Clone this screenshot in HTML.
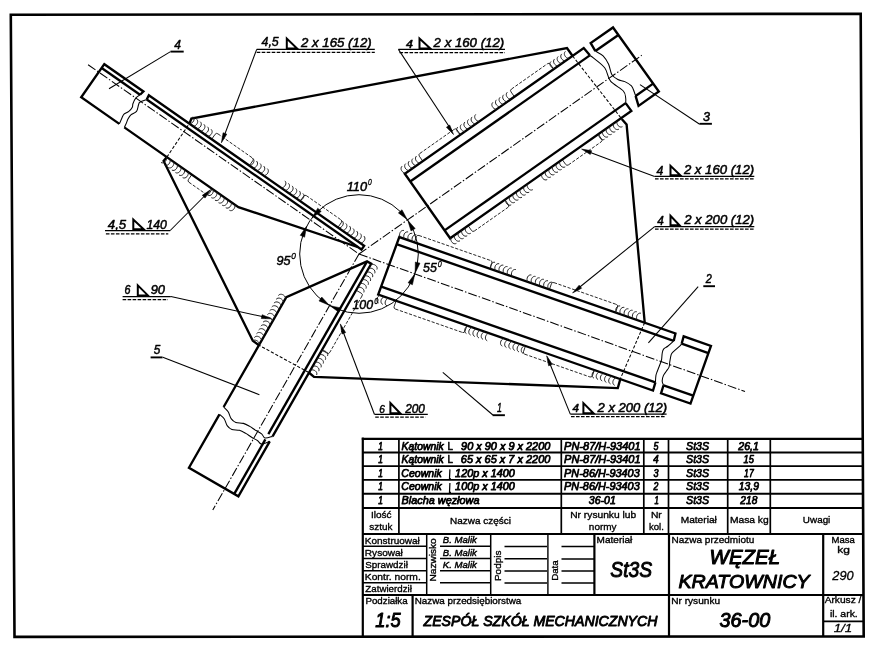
<!DOCTYPE html>
<html><head><meta charset="utf-8"><title>Węzeł kratownicy</title>
<style>
html,body{margin:0;padding:0;background:#fff;}
body{width:878px;height:650px;overflow:hidden;}
svg{display:block;font-family:"Liberation Sans",sans-serif;will-change:transform;}
</style></head><body>
<svg width="878" height="650" viewBox="0 0 878 650"><path d="M10.8 14.8 L860.7 13.8 L863.7 636.5 L14.5 636.9 Z" fill="none" stroke="#000" stroke-width="2.6" stroke-linejoin="miter"/>
<path d="M140.03 94.78 L143.4 91.52 L104.3 64.2 L81.22 97.23 L119.33 123.87" fill="none" stroke="#000" stroke-width="2.35" stroke-linejoin="miter"/>
<line x1="101.67" y1="67.97" x2="140.03" y2="94.78" stroke="#000" stroke-width="2.35" stroke-linecap="butt"/>
<path d="M140.03 94.78C139.31 95.34 136.92 96.63 135.74 98.12C134.55 99.61 133.49 102.21 132.92 103.72C132.35 105.23 133 105.93 132.32 107.2C131.64 108.47 130.21 110.2 128.82 111.34C127.43 112.49 125.15 112.93 123.99 114.07C122.82 115.21 122.62 116.55 121.84 118.18C121.07 119.81 119.75 122.92 119.33 123.87" fill="none" stroke="#000" stroke-width="1.05"/>
<path d="M146.75 99.47C145.61 99.94 141.3 101.34 139.92 102.27C138.54 103.19 139.04 103.52 138.47 105.04C137.9 106.55 137.77 109.71 136.5 111.35C135.24 112.98 132.28 113.6 130.88 114.86C129.47 116.11 128.87 117.38 128.07 118.87C127.27 120.37 126.7 122.41 126.07 123.82C125.45 125.24 124.62 126.77 124.33 127.36" fill="none" stroke="#000" stroke-width="1.05"/>
<path d="M146.75 99.47 L148.81 95.3 L364.14 245.78 L361.51 249.55 L358.23 247.26 L238.43 207.1 L124.33 127.36" fill="none" stroke="#000" stroke-width="2.35" stroke-linejoin="miter"/>
<line x1="146.75" y1="99.47" x2="358.23" y2="247.26" stroke="#000" stroke-width="2.35" stroke-linecap="butt"/>
<line x1="88.09" y1="64.7" x2="359" y2="254" stroke="#000" stroke-width="1.05" stroke-dasharray="9 2 1.5 2" stroke-linecap="butt"/>
<path d="M589.84 55.35 L583.73 48.04 L404.8 173.8 L450.11 238.27 L631.33 110.9 L625.65 103.16" fill="none" stroke="#000" stroke-width="2.35" stroke-linejoin="miter"/>
<line x1="410.26" y1="181.57" x2="589.84" y2="55.35" stroke="#000" stroke-width="2.35" stroke-linecap="butt"/>
<line x1="444.59" y1="230.41" x2="625.65" y2="103.16" stroke="#000" stroke-width="2.35" stroke-linecap="butt"/>
<path d="M589.84 55.35C590.48 55.82 591.16 56.06 593.66 58.17C596.16 60.28 602.08 64.24 604.86 68.02C607.64 71.81 607.29 77.07 610.36 80.9C613.44 84.73 620.77 88.13 623.32 90.98C625.87 93.83 625.3 95.97 625.68 98C626.07 100.03 625.65 102.3 625.65 103.16" fill="none" stroke="#000" stroke-width="1.05"/>
<path d="M595.4 51.08 L590.68 43.15 L613.02 27.46 L658.82 91.58 L638.53 105.84 L635.59 95.93" fill="none" stroke="#000" stroke-width="2.35" stroke-linejoin="miter"/>
<line x1="595.4" y1="51.08" x2="618.39" y2="34.93" stroke="#000" stroke-width="2.35" stroke-linecap="butt"/>
<line x1="635.59" y1="95.93" x2="653.1" y2="83.62" stroke="#000" stroke-width="2.35" stroke-linecap="butt"/>
<path d="M595.4 51.08C596.68 51.89 600.89 53.74 603.09 55.94C605.29 58.15 607.15 61.22 608.6 64.3C610.05 67.37 610.24 71.86 611.79 74.4C613.33 76.94 615.68 78.35 617.85 79.55C620.02 80.75 622.54 80.57 624.81 81.63C627.08 82.68 629.88 84.15 631.46 85.87C633.04 87.6 633.59 90.29 634.27 91.96C634.96 93.64 635.37 95.27 635.59 95.93" fill="none" stroke="#000" stroke-width="1.05"/>
<line x1="359" y1="254" x2="641.75" y2="55.3" stroke="#000" stroke-width="1.05" stroke-dasharray="9 2 1.5 2" stroke-linecap="butt"/>
<path d="M673.7 340.95 L675.45 333.51 L399.3 237.1 L378.21 294.56 L653.02 390.5 L655.41 382.44" fill="none" stroke="#000" stroke-width="2.35" stroke-linejoin="miter"/>
<line x1="396.51" y1="244.18" x2="673.7" y2="340.95" stroke="#000" stroke-width="2.35" stroke-linecap="butt"/>
<line x1="381.24" y1="286.72" x2="655.41" y2="382.44" stroke="#000" stroke-width="2.35" stroke-linecap="butt"/>
<path d="M673.7 340.95C672.71 341.84 669.41 344.92 667.72 346.27C666.03 347.62 664.48 347.9 663.56 349.06C662.65 350.22 662.56 351.39 662.21 353.25C661.86 355.1 661.94 358.11 661.48 360.19C661.02 362.28 660.13 363.89 659.44 365.73C658.74 367.57 657.89 369.62 657.31 371.24C656.72 372.85 656.27 373.56 655.95 375.42C655.63 377.29 655.5 381.27 655.41 382.44" fill="none" stroke="#000" stroke-width="1.05"/>
<path d="M681.64 343.72 L683.67 336.38 L710.95 345.9 L690.5 403.58 L661.04 393.3 L663.53 385.27" fill="none" stroke="#000" stroke-width="2.35" stroke-linejoin="miter"/>
<line x1="681.64" y1="343.72" x2="708.35" y2="353.05" stroke="#000" stroke-width="2.35" stroke-linecap="butt"/>
<line x1="663.53" y1="385.27" x2="693.27" y2="395.65" stroke="#000" stroke-width="2.35" stroke-linecap="butt"/>
<path d="M681.64 343.72C681.4 344.03 681.65 344.22 680.25 345.56C678.84 346.91 674.72 350.29 673.2 351.79C671.69 353.29 671.73 352.97 671.17 354.58C670.61 356.18 670.2 359.34 669.84 361.42C669.49 363.5 669.62 365.44 669.03 367.07C668.45 368.7 667.25 369.82 666.32 371.21C665.39 372.59 664.17 373.77 663.48 375.4C662.78 377.03 662.16 379.34 662.16 380.98C662.17 382.63 663.3 384.56 663.53 385.27" fill="none" stroke="#000" stroke-width="1.05"/>
<line x1="359" y1="254" x2="745" y2="391.5" stroke="#000" stroke-width="1.05" stroke-dasharray="9 2 1.5 2" stroke-linecap="butt"/>
<path d="M272.61 436.37 L371.22 263.75 L367.05 261.37 L286.32 297.25 L223.62 407" fill="none" stroke="#000" stroke-width="2.35" stroke-linejoin="miter"/>
<line x1="366.8" y1="261.8" x2="268.34" y2="434.16" stroke="#000" stroke-width="2.35" stroke-linecap="butt"/>
<path d="M223.62 407C224.38 407.8 226.9 409.84 228.15 411.78C229.4 413.72 229.85 416.87 231.13 418.66C232.41 420.45 233.8 421.72 235.84 422.51C237.89 423.29 241.09 422.72 243.41 423.37C245.72 424.02 247.71 425.25 249.74 426.41C251.76 427.57 253.58 429.09 255.57 430.32C257.55 431.55 260.07 432.51 261.64 433.79C263.22 435.07 263.17 437.58 264.99 438.01C266.82 438.44 271.34 436.64 272.61 436.37" fill="none" stroke="#000" stroke-width="1.05"/>
<path d="M269.78 441.32 L238.38 496.28 L188.95 467.7 L219.46 414.3" fill="none" stroke="#000" stroke-width="2.35" stroke-linejoin="miter"/>
<line x1="265.37" y1="439.37" x2="234.27" y2="493.81" stroke="#000" stroke-width="2.35" stroke-linecap="butt"/>
<path d="M219.46 414.3C220.24 415.04 222.9 416.84 224.18 418.73C225.47 420.61 225.88 423.82 227.16 425.61C228.44 427.4 229.83 428.67 231.88 429.45C233.92 430.24 237.13 429.67 239.44 430.32C241.76 430.97 243.74 432.2 245.77 433.36C247.79 434.52 249.61 436.03 251.6 437.26C253.58 438.49 256.02 439.6 257.68 440.74C259.33 441.87 259.5 443.99 261.52 444.08C263.54 444.18 268.41 441.78 269.78 441.32" fill="none" stroke="#000" stroke-width="1.05"/>
<line x1="359" y1="254" x2="212.76" y2="510.09" stroke="#000" stroke-width="1.05" stroke-dasharray="9 2 1.5 2" stroke-linecap="butt"/>
<path d="M572.6 56 L567 48 L191.4 118.6 L189.6 123.2" fill="none" stroke="#000" stroke-width="2.35" stroke-linejoin="miter"/>
<path d="M621.7 118.9 L626.6 124.5 L644.7 322.5" fill="none" stroke="#000" stroke-width="2.35" stroke-linejoin="miter"/>
<path d="M620.5 378.4 L617.8 388.1 L314 376.8 L308.8 372.5" fill="none" stroke="#000" stroke-width="2.35" stroke-linejoin="miter"/>
<path d="M259 345.2 L252.8 340.8 L163.6 161 L166.87 157.09" fill="none" stroke="#000" stroke-width="2.35" stroke-linejoin="miter"/>
<line x1="572.6" y1="56" x2="621.7" y2="118.9" stroke="#000" stroke-width="1.05" stroke-dasharray="3.2 1.8" stroke-linecap="butt"/>
<line x1="644.7" y1="322.5" x2="620.5" y2="378.4" stroke="#000" stroke-width="1.05" stroke-dasharray="3.2 1.8" stroke-linecap="butt"/>
<line x1="308.8" y1="372.5" x2="259" y2="345.2" stroke="#000" stroke-width="1.05" stroke-dasharray="3.2 1.8" stroke-linecap="butt"/>
<line x1="166.87" y1="157.09" x2="189.6" y2="123.2" stroke="#000" stroke-width="1.05" stroke-dasharray="3.2 1.8" stroke-linecap="butt"/>
<path d="M189.55 123.77C193.18 123.46 195.63 118.98 193.03 116.69M193.16 126.29C196.79 125.98 199.24 121.5 196.64 119.21M196.76 128.81C200.4 128.5 202.84 124.02 200.25 121.73M200.37 131.33C204 131.02 206.45 126.54 203.85 124.25M203.98 133.85C207.61 133.54 210.06 129.06 207.46 126.77M207.58 136.37C211.22 136.06 213.66 131.58 211.07 129.29" fill="none" stroke="#1a1a1a" stroke-width="0.95"/>
<line x1="217.9" y1="133.82" x2="252.33" y2="157.88" stroke="#000" stroke-width="0.85" stroke-dasharray="3.2 1.6" stroke-linecap="butt"/>
<path d="M211.68 139.24L215.12 134.32Q216.26 132.68 217.9 133.82" fill="none" stroke="#000" stroke-width="0.85"/>
<path d="M249.39 165.59L252.82 160.67Q253.97 159.03 252.33 157.88" fill="none" stroke="#000" stroke-width="0.85"/>
<path d="M249.39 165.59C253.02 165.27 255.47 160.79 252.87 158.5M252.99 168.11C256.63 167.79 259.07 163.31 256.48 161.02M256.6 170.63C260.24 170.31 262.68 165.83 260.08 163.54M260.21 173.15C263.84 172.83 266.29 168.36 263.69 166.07M263.81 175.67C267.45 175.35 269.89 170.88 267.3 168.59" fill="none" stroke="#1a1a1a" stroke-width="0.95"/>
<path d="M281.35 187.92C284.99 187.61 287.44 183.13 284.84 180.84M284.96 190.44C288.6 190.13 291.04 185.65 288.45 183.36M288.57 192.96C292.2 192.65 294.65 188.17 292.05 185.88M292.17 195.49C295.81 195.17 298.26 190.69 295.66 188.4M295.78 198.01C299.42 197.69 301.86 193.21 299.27 190.92M299.39 200.53C303.02 200.21 305.47 195.73 302.87 193.44" fill="none" stroke="#1a1a1a" stroke-width="0.95"/>
<line x1="306.43" y1="195.69" x2="340.86" y2="219.74" stroke="#000" stroke-width="0.85" stroke-dasharray="3.2 1.6" stroke-linecap="butt"/>
<path d="M300.21 201.1L303.64 196.18Q304.79 194.54 306.43 195.69" fill="none" stroke="#000" stroke-width="0.85"/>
<path d="M337.91 227.45L341.35 222.53Q342.5 220.89 340.86 219.74" fill="none" stroke="#000" stroke-width="0.85"/>
<path d="M338.73 228.02C342.37 227.71 344.81 223.23 342.22 220.94M342.34 230.54C345.98 230.23 348.42 225.75 345.82 223.46M345.95 233.06C349.58 232.75 352.03 228.27 349.43 225.98M349.55 235.58C353.19 235.27 355.63 230.79 353.04 228.5M353.16 238.1C356.8 237.79 359.24 233.31 356.64 231.02M356.77 240.62C360.4 240.31 362.85 235.83 360.25 233.54M360.37 243.14C364.01 242.83 366.45 238.35 363.86 236.06" fill="none" stroke="#1a1a1a" stroke-width="0.95"/>
<path d="M166.46 156.8C167.42 160.33 164.06 164.16 161.01 162.51M170.07 159.33C171.03 162.85 167.66 166.68 164.62 165.03M173.68 161.85C174.63 165.37 171.27 169.2 168.23 167.55M177.28 164.37C178.24 167.89 174.88 171.72 171.83 170.07M180.89 166.89C181.85 170.41 178.48 174.24 175.44 172.59M184.5 169.41C185.45 172.93 182.09 176.76 179.05 175.11M188.1 171.93C189.06 175.45 185.7 179.28 182.65 177.63" fill="none" stroke="#1a1a1a" stroke-width="0.95"/>
<line x1="188.93" y1="182.26" x2="206.15" y2="194.29" stroke="#000" stroke-width="0.85" stroke-dasharray="3.2 1.6" stroke-linecap="butt"/>
<path d="M191.88 174.56L188.44 179.48Q187.29 181.12 188.93 182.26" fill="none" stroke="#000" stroke-width="0.85"/>
<path d="M212.37 188.88L208.93 193.8Q207.79 195.44 206.15 194.29" fill="none" stroke="#000" stroke-width="0.85"/>
<path d="M213.19 189.45C214.14 192.98 210.78 196.81 207.74 195.16M216.79 191.97C217.75 195.5 214.39 199.33 211.34 197.68M220.4 194.49C221.36 198.02 217.99 201.85 214.95 200.2M224.01 197.02C224.96 200.54 221.6 204.37 218.56 202.72M227.61 199.54C228.57 203.06 225.21 206.89 222.16 205.24M231.22 202.06C232.18 205.58 228.81 209.41 225.77 207.76M234.83 204.58C235.78 208.1 232.42 211.93 229.38 210.28" fill="none" stroke="#1a1a1a" stroke-width="0.95"/>
<path d="M405.62 173.22C401.98 172.92 399.52 168.45 402.11 166.15M409.22 170.69C405.58 170.39 403.12 165.92 405.71 163.62M412.82 168.16C409.18 167.86 406.72 163.39 409.31 161.09M416.42 165.63C412.78 165.33 410.32 160.86 412.91 158.56M420.02 163.1C416.38 162.8 413.92 158.33 416.51 156.03" fill="none" stroke="#1a1a1a" stroke-width="0.95"/>
<line x1="419.84" y1="153.45" x2="454.2" y2="129.3" stroke="#000" stroke-width="0.85" stroke-dasharray="3.2 1.6" stroke-linecap="butt"/>
<path d="M422.8 161.15L419.35 156.24Q418.2 154.6 419.84 153.45" fill="none" stroke="#000" stroke-width="0.85"/>
<path d="M460.43 134.7L456.98 129.79Q455.83 128.15 454.2 129.3" fill="none" stroke="#000" stroke-width="0.85"/>
<path d="M461.25 134.12C457.62 133.82 455.16 129.35 457.75 127.05M464.85 131.59C461.21 131.29 458.76 126.82 461.35 124.52M468.45 129.06C464.81 128.76 462.36 124.29 464.95 121.99M472.05 126.53C468.41 126.23 465.96 121.76 468.55 119.46M475.65 124C472.01 123.7 469.56 119.23 472.15 116.93M479.25 121.47C475.61 121.17 473.16 116.7 475.75 114.4" fill="none" stroke="#1a1a1a" stroke-width="0.95"/>
<path d="M496.43 109.4C492.79 109.09 490.34 104.62 492.93 102.33M500.03 106.87C496.39 106.56 493.94 102.09 496.53 99.8M503.63 104.34C499.99 104.03 497.54 99.56 500.13 97.27M507.23 101.81C503.59 101.5 501.14 97.03 503.73 94.74M510.83 99.28C507.19 98.97 504.74 94.5 507.33 92.21" fill="none" stroke="#1a1a1a" stroke-width="0.95"/>
<line x1="511.47" y1="89.05" x2="547.46" y2="63.75" stroke="#000" stroke-width="0.85" stroke-dasharray="3.2 1.6" stroke-linecap="butt"/>
<path d="M514.43 96.75L510.98 91.84Q509.83 90.2 511.47 89.05" fill="none" stroke="#000" stroke-width="0.85"/>
<path d="M553.7 69.15L550.25 64.24Q549.1 62.6 547.46 63.75" fill="none" stroke="#000" stroke-width="0.85"/>
<path d="M554.52 68.57C550.88 68.27 548.43 63.8 551.02 61.5M558.12 66.04C554.48 65.74 552.03 61.27 554.62 58.97M561.72 63.51C558.08 63.21 555.62 58.74 558.22 56.44M565.32 60.98C561.68 60.68 559.22 56.21 561.81 53.91M568.92 58.45C565.28 58.15 562.82 53.68 565.41 51.38" fill="none" stroke="#1a1a1a" stroke-width="0.95"/>
<path d="M450.93 237.69C449.98 241.22 453.36 245.04 456.4 243.39M454.53 235.16C453.58 238.69 456.96 242.51 460 240.86M458.13 232.63C457.18 236.16 460.56 239.98 463.6 238.33M461.73 230.1C460.78 233.63 464.16 237.45 467.2 235.8M465.33 227.57C464.38 231.1 467.76 234.92 470.8 233.27" fill="none" stroke="#1a1a1a" stroke-width="0.95"/>
<line x1="474.35" y1="231.01" x2="507.89" y2="207.44" stroke="#000" stroke-width="0.85" stroke-dasharray="3.2 1.6" stroke-linecap="butt"/>
<path d="M468.11 225.62L471.56 230.53Q472.71 232.16 474.35 231.01" fill="none" stroke="#000" stroke-width="0.85"/>
<path d="M504.93 199.74L508.38 204.65Q509.53 206.29 507.89 207.44" fill="none" stroke="#000" stroke-width="0.85"/>
<path d="M505.75 199.17C504.8 202.69 508.17 206.52 511.21 204.86M509.35 196.64C508.4 200.16 511.77 203.99 514.81 202.33M512.94 194.11C512 197.63 515.37 201.46 518.41 199.8M516.54 191.58C515.6 195.1 518.97 198.93 522.01 197.27M520.14 189.05C519.2 192.57 522.57 196.4 525.61 194.74M523.74 186.52C522.8 190.04 526.17 193.87 529.21 192.21M527.34 183.99C526.4 187.51 529.77 191.34 532.81 189.68" fill="none" stroke="#1a1a1a" stroke-width="0.95"/>
<path d="M541.74 173.87C540.8 177.39 544.17 181.22 547.21 179.56M545.34 171.34C544.4 174.86 547.77 178.69 550.81 177.03M548.94 168.81C548 172.33 551.37 176.16 554.41 174.5M552.54 166.28C551.6 169.8 554.97 173.63 558.01 171.97M556.14 163.75C555.2 167.27 558.57 171.1 561.61 169.44M559.74 161.22C558.8 164.74 562.17 168.57 565.21 166.91" fill="none" stroke="#1a1a1a" stroke-width="0.95"/>
<line x1="568.43" y1="164.89" x2="601.16" y2="141.88" stroke="#000" stroke-width="0.85" stroke-dasharray="3.2 1.6" stroke-linecap="butt"/>
<path d="M562.2 159.49L565.65 164.4Q566.8 166.04 568.43 164.89" fill="none" stroke="#000" stroke-width="0.85"/>
<path d="M598.19 134.19L601.64 139.1Q602.79 140.73 601.16 141.88" fill="none" stroke="#000" stroke-width="0.85"/>
<path d="M599.01 133.61C598.07 137.14 601.44 140.96 604.48 139.31M602.61 131.08C601.67 134.61 605.04 138.43 608.08 136.78M606.21 128.55C605.27 132.08 608.64 135.9 611.68 134.25M609.81 126.02C608.87 129.55 612.24 133.37 615.28 131.72M613.41 123.49C612.47 127.02 615.84 130.84 618.88 129.19M617.01 120.96C616.07 124.49 619.44 128.31 622.48 126.66" fill="none" stroke="#1a1a1a" stroke-width="0.95"/>
<path d="M400.24 237.43C398.37 234.3 400.57 229.7 403.95 230.46M404.4 238.88C402.53 235.75 404.73 231.15 408.1 231.91M408.55 240.33C406.68 237.2 408.88 232.6 412.26 233.36M412.71 241.78C410.83 238.65 413.03 234.05 416.41 234.81" fill="none" stroke="#1a1a1a" stroke-width="0.95"/>
<line x1="418.93" y1="235.48" x2="490.68" y2="260.53" stroke="#000" stroke-width="0.85" stroke-dasharray="3.2 1.6" stroke-linecap="butt"/>
<path d="M414.41 242.37L416.38 236.71Q417.04 234.82 418.93 235.48" fill="none" stroke="#000" stroke-width="0.85"/>
<path d="M489.94 268.74L491.91 263.08Q492.57 261.19 490.68 260.53" fill="none" stroke="#000" stroke-width="0.85"/>
<path d="M491.35 269.24C489.48 266.1 491.68 261.5 495.06 262.27M495.51 270.69C493.63 267.55 495.83 262.95 499.21 263.72M499.66 272.14C497.79 269.01 499.99 264.4 503.36 265.17M503.81 273.59C501.94 270.46 504.14 265.85 507.52 266.62M507.97 275.04C506.1 271.91 508.3 267.3 511.67 268.07M512.12 276.49C510.25 273.36 512.45 268.75 515.83 269.52" fill="none" stroke="#1a1a1a" stroke-width="0.95"/>
<path d="M527.7 281.93C525.83 278.79 528.03 274.19 531.4 274.96M531.85 283.38C529.98 280.24 532.18 275.64 535.56 276.41M536.01 284.83C534.14 281.69 536.34 277.09 539.71 277.86M540.16 286.28C538.29 283.15 540.49 278.54 543.87 279.31M544.32 287.73C542.44 284.6 544.64 279.99 548.02 280.76M548.47 289.18C546.6 286.05 548.8 281.44 552.17 282.21" fill="none" stroke="#1a1a1a" stroke-width="0.95"/>
<line x1="553.94" y1="282.61" x2="616.25" y2="304.37" stroke="#000" stroke-width="0.85" stroke-dasharray="3.2 1.6" stroke-linecap="butt"/>
<path d="M549.41 289.51L551.39 283.84Q552.05 281.95 553.94 282.61" fill="none" stroke="#000" stroke-width="0.85"/>
<path d="M615.5 312.58L617.48 306.92Q618.14 305.03 616.25 304.37" fill="none" stroke="#000" stroke-width="0.85"/>
<path d="M616.45 312.91C614.57 309.78 616.77 305.18 620.15 305.94M620.6 314.36C618.73 311.23 620.93 306.63 624.31 307.39M624.76 315.81C622.88 312.68 625.08 308.08 628.46 308.84M628.91 317.26C627.04 314.13 629.24 309.53 632.61 310.29M633.06 318.71C631.19 315.58 633.39 310.98 636.77 311.74M637.22 320.16C635.35 317.03 637.55 312.43 640.92 313.19" fill="none" stroke="#1a1a1a" stroke-width="0.95"/>
<path d="M380.07 295.21C376.66 296.5 375.51 301.47 378.63 302.97M384.23 296.66C380.81 297.95 379.67 302.92 382.79 304.42M388.38 298.11C384.97 299.4 383.82 304.37 386.94 305.87" fill="none" stroke="#1a1a1a" stroke-width="0.95"/>
<line x1="395.37" y1="309.03" x2="462.41" y2="332.43" stroke="#000" stroke-width="0.85" stroke-dasharray="3.2 1.6" stroke-linecap="butt"/>
<path d="M396.12 300.81L394.14 306.48Q393.49 308.37 395.37 309.03" fill="none" stroke="#000" stroke-width="0.85"/>
<path d="M466.93 325.53L464.95 331.2Q464.29 333.09 462.41 332.43" fill="none" stroke="#000" stroke-width="0.85"/>
<path d="M467.88 325.86C464.46 327.15 463.32 332.12 466.44 333.62M472.03 327.31C468.61 328.6 467.47 333.57 470.59 335.07M476.18 328.76C472.77 330.05 471.63 335.02 474.75 336.52M480.34 330.21C476.92 331.5 475.78 336.47 478.9 337.97M484.49 331.66C481.08 332.95 479.93 337.92 483.05 339.42M488.65 333.11C485.23 334.4 484.09 339.37 487.21 340.87" fill="none" stroke="#1a1a1a" stroke-width="0.95"/>
<path d="M503.75 338.39C500.34 339.67 499.19 344.65 502.31 346.15M507.91 339.84C504.49 341.12 503.35 346.1 506.47 347.6M512.06 341.29C508.65 342.57 507.5 347.55 510.62 349.05M516.21 342.74C512.8 344.03 511.66 349 514.78 350.5M520.37 344.19C516.95 345.48 515.81 350.45 518.93 351.95M524.52 345.64C521.11 346.93 519.97 351.9 523.08 353.4" fill="none" stroke="#1a1a1a" stroke-width="0.95"/>
<line x1="524.72" y1="354.18" x2="589.86" y2="376.92" stroke="#000" stroke-width="0.85" stroke-dasharray="3.2 1.6" stroke-linecap="butt"/>
<path d="M525.47 345.97L523.49 351.63Q522.83 353.52 524.72 354.18" fill="none" stroke="#000" stroke-width="0.85"/>
<path d="M594.39 370.03L592.41 375.7Q591.75 377.58 589.86 376.92" fill="none" stroke="#000" stroke-width="0.85"/>
<path d="M595.33 370.36C591.92 371.65 590.77 376.62 593.89 378.12M599.49 371.81C596.07 373.1 594.93 378.07 598.05 379.57M603.64 373.26C600.22 374.55 599.08 379.52 602.2 381.02M607.79 374.71C604.38 376 603.24 380.97 606.36 382.47M611.95 376.16C608.53 377.45 607.39 382.42 610.51 383.92M616.1 377.61C612.69 378.9 611.54 383.87 614.66 385.37" fill="none" stroke="#1a1a1a" stroke-width="0.95"/>
<path d="M370.72 264.62C374.14 263.34 378.27 266.35 376.9 269.53M368.54 268.44C371.96 267.16 376.08 270.17 374.72 273.35M366.36 272.26C369.78 270.99 373.9 273.99 372.53 277.17M364.17 276.08C367.59 274.81 371.72 277.81 370.35 280.99M361.99 279.9C365.41 278.63 369.54 281.63 368.17 284.81M359.81 283.72C363.23 282.45 367.35 285.45 365.99 288.63M357.63 287.54C361.05 286.27 365.17 289.27 363.8 292.45" fill="none" stroke="#1a1a1a" stroke-width="0.95"/>
<line x1="362.04" y1="295.94" x2="329.8" y2="352.38" stroke="#000" stroke-width="0.85" stroke-dasharray="3.2 1.6" stroke-linecap="butt"/>
<path d="M356.09 290.23L361.3 293.21Q363.03 294.2 362.04 295.94" fill="none" stroke="#000" stroke-width="0.85"/>
<path d="M321.86 350.14L327.07 353.12Q328.81 354.11 329.8 352.38" fill="none" stroke="#000" stroke-width="0.85"/>
<path d="M321.37 351.01C324.79 349.74 328.91 352.74 327.54 355.92M319.18 354.83C322.61 353.56 326.73 356.56 325.36 359.74M317 358.65C320.42 357.38 324.55 360.38 323.18 363.56M314.82 362.47C318.24 361.2 322.36 364.2 321 367.39M312.64 366.29C316.06 365.02 320.18 368.03 318.81 371.21M310.45 370.12C313.88 368.84 318 371.85 316.63 375.03" fill="none" stroke="#1a1a1a" stroke-width="0.95"/>
<path d="M285.67 298.38C285.03 294.79 280.35 292.76 278.31 295.55M283.49 302.2C282.85 298.61 278.17 296.58 276.12 299.37M281.31 306.02C280.67 302.43 275.99 300.4 273.94 303.19M279.13 309.84C278.48 306.25 273.8 304.22 271.76 307.01M276.94 313.66C276.3 310.07 271.62 308.04 269.58 310.83M274.76 317.48C274.12 313.89 269.44 311.86 267.39 314.65M272.58 321.3C271.94 317.71 267.26 315.68 265.21 318.47M270.4 325.12C269.75 321.53 265.07 319.5 263.03 322.29M268.21 328.94C267.57 325.35 262.89 323.32 260.85 326.12M266.03 332.76C265.39 329.17 260.71 327.14 258.66 329.94M263.85 336.58C263.21 332.99 258.53 330.96 256.48 333.76M261.67 340.4C261.02 336.81 256.34 334.78 254.3 337.58M259.49 344.22C258.84 340.63 254.16 338.6 252.12 341.4" fill="none" stroke="#1a1a1a" stroke-width="0.95"/>
<circle cx="359" cy="254" r="59.3" fill="none" stroke="#000" stroke-width="1.0"/>
<path d="M407.34 219.65 L398.35 212.89 L401.99 209.76 Z" fill="#000" stroke="#000" stroke-width="0.5"/>
<path d="M407.69 220.16 L415.19 228.54 L411.01 230.9 Z" fill="#000" stroke="#000" stroke-width="0.5"/>
<path d="M415.09 273.25 L415.34 262.01 L420.01 263.14 Z" fill="#000" stroke="#000" stroke-width="0.5"/>
<path d="M414.88 273.84 L412.44 284.81 L408.09 282.8 Z" fill="#000" stroke="#000" stroke-width="0.5"/>
<path d="M329.86 305.64 L340.86 307.94 L338.9 312.32 Z" fill="#000" stroke="#000" stroke-width="0.5"/>
<path d="M329.32 305.34 L318.97 300.94 L321.75 297.02 Z" fill="#000" stroke="#000" stroke-width="0.5"/>
<path d="M306.64 226.16 L304.62 237.22 L300.19 235.37 Z" fill="#000" stroke="#000" stroke-width="0.5"/>
<path d="M312.02 217.82 L317.74 208.14 L321.25 211.41 Z" fill="#000" stroke="#000" stroke-width="0.5"/>
<line x1="109" y1="88.7" x2="170.5" y2="51.6" stroke="#000" stroke-width="1.05" stroke-linecap="butt"/>
<text x="174.22" y="49.35" font-size="13" font-style="italic" stroke="#000" stroke-width="0.5" stroke-linejoin="round" textLength="6.7" lengthAdjust="spacingAndGlyphs" fill="#000">4</text>
<line x1="170.5" y1="51.6" x2="183.7" y2="51.6" stroke="#000" stroke-width="1.9" stroke-linecap="butt"/>
<text x="261.52" y="46.45" font-size="12.86" font-style="italic" stroke="#000" stroke-width="0.5" stroke-linejoin="round" textLength="17.23" lengthAdjust="spacingAndGlyphs" fill="#000">4,5</text>
<path d="M286.8 38.6L286.8 48.5L297.1 48.5Z" fill="none" stroke="#000" stroke-width="2"/>
<text x="300.99" y="46.65" font-size="12.71" font-style="italic" stroke="#000" stroke-width="0.5" stroke-linejoin="round" textLength="70.7" lengthAdjust="spacingAndGlyphs" fill="#000">2 x 165 (12)</text>
<line x1="256.7" y1="49.4" x2="374.8" y2="49.4" stroke="#000" stroke-width="1.25" stroke-linecap="butt"/>
<line x1="256.7" y1="52.3" x2="374.8" y2="52.3" stroke="#000" stroke-width="1.25" stroke-dasharray="3.6 1.4" stroke-linecap="butt"/>
<line x1="256.7" y1="49.4" x2="223" y2="139" stroke="#000" stroke-width="1.05" stroke-linecap="butt"/>
<path d="M221.4 142.8 L223.11 132.76 L226.76 134.14 Z" fill="#000" stroke="#000" stroke-width="0.6"/>
<text x="405.95" y="48.15" font-size="10" font-style="italic" stroke="#000" stroke-width="0.5" stroke-linejoin="round" textLength="6.88" lengthAdjust="spacingAndGlyphs" fill="#000">4</text>
<path d="M419.5 38.5L419.5 48.4L430.3 48.4Z" fill="none" stroke="#000" stroke-width="2"/>
<text x="433.61" y="47.15" font-size="12" font-style="italic" stroke="#000" stroke-width="0.5" stroke-linejoin="round" textLength="70.54" lengthAdjust="spacingAndGlyphs" fill="#000">2 x 160 (12)</text>
<line x1="398.4" y1="49.4" x2="505" y2="49.4" stroke="#000" stroke-width="1.25" stroke-linecap="butt"/>
<line x1="399.5" y1="52.5" x2="505" y2="52.5" stroke="#000" stroke-width="1.25" stroke-dasharray="3.6 1.4" stroke-linecap="butt"/>
<line x1="398.4" y1="49.4" x2="452" y2="131" stroke="#000" stroke-width="1.05" stroke-linecap="butt"/>
<path d="M453.5 134.5 L446.43 127.17 L449.7 125.05 Z" fill="#000" stroke="#000" stroke-width="0.6"/>
<line x1="640" y1="84.6" x2="699.7" y2="124.2" stroke="#000" stroke-width="1.05" stroke-linecap="butt"/>
<text x="703" y="121.25" font-size="12.86" font-style="italic" stroke="#000" stroke-width="0.5" stroke-linejoin="round" textLength="7" lengthAdjust="spacingAndGlyphs" fill="#000">3</text>
<line x1="699.6" y1="123.8" x2="711.9" y2="123.8" stroke="#000" stroke-width="1.9" stroke-linecap="butt"/>
<text x="656.62" y="175.15" font-size="12.43" font-style="italic" stroke="#000" stroke-width="0.5" stroke-linejoin="round" textLength="6.84" lengthAdjust="spacingAndGlyphs" fill="#000">4</text>
<path d="M670.5 165.8L670.5 175.3L680.3 175.3Z" fill="none" stroke="#000" stroke-width="2"/>
<text x="683.9" y="174.35" font-size="12.29" font-style="italic" stroke="#000" stroke-width="0.5" stroke-linejoin="round" textLength="70.25" lengthAdjust="spacingAndGlyphs" fill="#000">2 x 160 (12)</text>
<line x1="654.6" y1="176.4" x2="754.3" y2="176.4" stroke="#000" stroke-width="1.25" stroke-linecap="butt"/>
<line x1="655" y1="178.9" x2="754.3" y2="178.9" stroke="#000" stroke-width="1.25" stroke-dasharray="3.6 1.4" stroke-linecap="butt"/>
<line x1="654.6" y1="176.4" x2="585" y2="150.5" stroke="#000" stroke-width="1.05" stroke-linecap="butt"/>
<path d="M581.6 149.1 L591.65 150.78 L590.28 154.43 Z" fill="#000" stroke="#000" stroke-width="0.6"/>
<text x="657.32" y="225.35" font-size="12.71" font-style="italic" stroke="#000" stroke-width="0.5" stroke-linejoin="round" textLength="6.57" lengthAdjust="spacingAndGlyphs" fill="#000">4</text>
<path d="M670.5 215.8L670.5 225.3L679.5 225.3Z" fill="none" stroke="#000" stroke-width="2"/>
<text x="684.2" y="224.35" font-size="12.29" font-style="italic" stroke="#000" stroke-width="0.5" stroke-linejoin="round" textLength="69.95" lengthAdjust="spacingAndGlyphs" fill="#000">2 x 200 (12)</text>
<line x1="654.6" y1="226.7" x2="754.3" y2="226.7" stroke="#000" stroke-width="1.25" stroke-linecap="butt"/>
<line x1="655" y1="229.1" x2="754.3" y2="229.1" stroke="#000" stroke-width="1.25" stroke-dasharray="3.6 1.4" stroke-linecap="butt"/>
<line x1="654.6" y1="226.7" x2="575.5" y2="290.5" stroke="#000" stroke-width="1.05" stroke-linecap="butt"/>
<path d="M572.6 293 L579.15 285.2 L581.6 288.23 Z" fill="#000" stroke="#000" stroke-width="0.6"/>
<line x1="648.4" y1="342.9" x2="698.2" y2="286.6" stroke="#000" stroke-width="1.05" stroke-linecap="butt"/>
<text x="705.63" y="283.25" font-size="12.43" font-style="italic" stroke="#000" stroke-width="0.5" stroke-linejoin="round" textLength="6.09" lengthAdjust="spacingAndGlyphs" fill="#000">2</text>
<line x1="703.3" y1="286.2" x2="715" y2="286.2" stroke="#000" stroke-width="1.9" stroke-linecap="butt"/>
<text x="572.63" y="412.45" font-size="11" font-style="italic" stroke="#000" stroke-width="0.5" stroke-linejoin="round" textLength="6.49" lengthAdjust="spacingAndGlyphs" fill="#000">4</text>
<path d="M583.4 403.1L583.4 413.3L593.5 413.3Z" fill="none" stroke="#000" stroke-width="2"/>
<text x="597.51" y="412.05" font-size="11.86" font-style="italic" stroke="#000" stroke-width="0.5" stroke-linejoin="round" textLength="69.66" lengthAdjust="spacingAndGlyphs" fill="#000">2 x 200 (12)</text>
<line x1="570.3" y1="414.1" x2="666.6" y2="414.1" stroke="#000" stroke-width="1.25" stroke-linecap="butt"/>
<line x1="571" y1="416.6" x2="666" y2="416.6" stroke="#000" stroke-width="1.25" stroke-dasharray="3.6 1.4" stroke-linecap="butt"/>
<line x1="570.3" y1="414.1" x2="548" y2="359" stroke="#000" stroke-width="1.05" stroke-linecap="butt"/>
<path d="M546.7 355.8 L552.26 364.34 L548.64 365.8 Z" fill="#000" stroke="#000" stroke-width="0.6"/>
<line x1="442.8" y1="372.4" x2="492.9" y2="415" stroke="#000" stroke-width="1.05" stroke-linecap="butt"/>
<text x="497.01" y="412.35" font-size="12.86" font-style="italic" stroke="#000" stroke-width="0.5" stroke-linejoin="round" textLength="4.92" lengthAdjust="spacingAndGlyphs" fill="#000">1</text>
<line x1="492.6" y1="415.2" x2="504.9" y2="415.2" stroke="#000" stroke-width="1.9" stroke-linecap="butt"/>
<text x="379.18" y="412.65" font-size="11.71" font-style="italic" stroke="#000" stroke-width="0.5" stroke-linejoin="round" textLength="5.62" lengthAdjust="spacingAndGlyphs" fill="#000">6</text>
<path d="M390.4 403.1L390.4 413.3L400.2 413.3Z" fill="none" stroke="#000" stroke-width="2"/>
<text x="405.16" y="412.65" font-size="12.29" font-style="italic" stroke="#000" stroke-width="0.5" stroke-linejoin="round" textLength="19.71" lengthAdjust="spacingAndGlyphs" fill="#000">200</text>
<line x1="374.4" y1="414.3" x2="427.8" y2="414.3" stroke="#000" stroke-width="1.25" stroke-linecap="butt"/>
<line x1="375.2" y1="417.1" x2="425.4" y2="417.1" stroke="#000" stroke-width="1.25" stroke-dasharray="3.6 1.4" stroke-linecap="butt"/>
<line x1="374.4" y1="414.3" x2="341.5" y2="327.5" stroke="#000" stroke-width="1.05" stroke-linecap="butt"/>
<path d="M340.3 323.9 L345.65 332.57 L342 333.94 Z" fill="#000" stroke="#000" stroke-width="0.6"/>
<line x1="162.8" y1="357.3" x2="259.4" y2="394.7" stroke="#000" stroke-width="1.05" stroke-linecap="butt"/>
<text x="153.8" y="354.25" font-size="13" font-style="italic" stroke="#000" stroke-width="0.5" stroke-linejoin="round" textLength="6.56" lengthAdjust="spacingAndGlyphs" fill="#000">5</text>
<line x1="150.6" y1="357.4" x2="162.6" y2="357.4" stroke="#000" stroke-width="1.9" stroke-linecap="butt"/>
<text x="124.47" y="294.45" font-size="12" font-style="italic" stroke="#000" stroke-width="0.5" stroke-linejoin="round" textLength="5.96" lengthAdjust="spacingAndGlyphs" fill="#000">6</text>
<path d="M137.8 285.4L137.8 295.4L147.9 295.4Z" fill="none" stroke="#000" stroke-width="2"/>
<text x="150.67" y="294.45" font-size="12" font-style="italic" stroke="#000" stroke-width="0.5" stroke-linejoin="round" textLength="14.37" lengthAdjust="spacingAndGlyphs" fill="#000">90</text>
<line x1="122.6" y1="296.5" x2="170.8" y2="296.5" stroke="#000" stroke-width="1.25" stroke-linecap="butt"/>
<line x1="122.6" y1="299.7" x2="168" y2="299.7" stroke="#000" stroke-width="1.25" stroke-dasharray="3.6 1.4" stroke-linecap="butt"/>
<line x1="170.8" y1="296.5" x2="267" y2="317.6" stroke="#000" stroke-width="1.05" stroke-linecap="butt"/>
<path d="M271.5 318.8 L261.31 318.54 L262.16 314.73 Z" fill="#000" stroke="#000" stroke-width="0.6"/>
<text x="107.83" y="228.65" font-size="12.43" font-style="italic" stroke="#000" stroke-width="0.5" stroke-linejoin="round" textLength="18.33" lengthAdjust="spacingAndGlyphs" fill="#000">4,5</text>
<path d="M133.3 219.6L133.3 229.3L143.7 229.3Z" fill="none" stroke="#000" stroke-width="2"/>
<text x="146.38" y="228.65" font-size="12.43" font-style="italic" stroke="#000" stroke-width="0.5" stroke-linejoin="round" textLength="20.48" lengthAdjust="spacingAndGlyphs" fill="#000">140</text>
<line x1="105" y1="230.5" x2="170.2" y2="230.5" stroke="#000" stroke-width="1.25" stroke-linecap="butt"/>
<line x1="105.9" y1="233.9" x2="168.3" y2="233.9" stroke="#000" stroke-width="1.25" stroke-dasharray="3.6 1.4" stroke-linecap="butt"/>
<line x1="170.2" y1="230.5" x2="208" y2="192.5" stroke="#000" stroke-width="1.05" stroke-linecap="butt"/>
<path d="M210.7 189.6 L205.05 198.08 L202.28 195.33 Z" fill="#000" stroke="#000" stroke-width="0.6"/>
<text x="346.67" y="191.35" font-size="12.29" font-style="italic" stroke="#000" stroke-width="0.5" stroke-linejoin="round" textLength="20.46" lengthAdjust="spacingAndGlyphs" fill="#000">110</text>
<text x="368.1" y="185.32" font-size="8.36" font-style="italic" stroke="#000" stroke-width="0.35" stroke-linejoin="round" textLength="3.72" lengthAdjust="spacingAndGlyphs" fill="#000">0</text>
<text x="276.45" y="265.25" font-size="12.86" font-style="italic" stroke="#000" stroke-width="0.5" stroke-linejoin="round" textLength="14.03" lengthAdjust="spacingAndGlyphs" fill="#000">95</text>
<text x="291.26" y="259.43" font-size="8.79" font-style="italic" stroke="#000" stroke-width="0.35" stroke-linejoin="round" textLength="4.63" lengthAdjust="spacingAndGlyphs" fill="#000">0</text>
<text x="423.1" y="272.35" font-size="12.43" font-style="italic" stroke="#000" stroke-width="0.5" stroke-linejoin="round" textLength="13.7" lengthAdjust="spacingAndGlyphs" fill="#000">55</text>
<text x="437.81" y="267.12" font-size="9.21" font-style="italic" stroke="#000" stroke-width="0.35" stroke-linejoin="round" textLength="4" lengthAdjust="spacingAndGlyphs" fill="#000">0</text>
<text x="352.48" y="309.35" font-size="12.71" font-style="italic" stroke="#000" stroke-width="0.5" stroke-linejoin="round" textLength="20.66" lengthAdjust="spacingAndGlyphs" fill="#000">100</text>
<text x="374.2" y="303.52" font-size="9.36" font-style="italic" stroke="#000" stroke-width="0.35" stroke-linejoin="round" textLength="4.06" lengthAdjust="spacingAndGlyphs" fill="#000">0</text>
<line x1="362.8" y1="437.6" x2="362.8" y2="636.5" stroke="#000" stroke-width="2.2" stroke-linecap="butt"/>
<line x1="361.8" y1="438.8" x2="862.2" y2="438.8" stroke="#000" stroke-width="2.2" stroke-linecap="butt"/>
<line x1="362.8" y1="452.5" x2="862.5" y2="452.5" stroke="#000" stroke-width="1.9" stroke-linecap="butt"/>
<line x1="362.8" y1="466.1" x2="862.5" y2="466.1" stroke="#000" stroke-width="1.9" stroke-linecap="butt"/>
<line x1="362.8" y1="479.9" x2="862.5" y2="479.9" stroke="#000" stroke-width="1.9" stroke-linecap="butt"/>
<line x1="362.8" y1="493.8" x2="862.5" y2="493.8" stroke="#000" stroke-width="1.9" stroke-linecap="butt"/>
<line x1="362.8" y1="508" x2="862.8" y2="508" stroke="#000" stroke-width="2.2" stroke-linecap="butt"/>
<line x1="362.8" y1="534" x2="863" y2="534" stroke="#000" stroke-width="2.2" stroke-linecap="butt"/>
<line x1="362.8" y1="595" x2="863.2" y2="595" stroke="#000" stroke-width="2.2" stroke-linecap="butt"/>
<line x1="398.9" y1="438.8" x2="398.9" y2="534" stroke="#000" stroke-width="1.7" stroke-linecap="butt"/>
<line x1="561.3" y1="438.8" x2="561.3" y2="534" stroke="#000" stroke-width="1.7" stroke-linecap="butt"/>
<line x1="643.8" y1="438.8" x2="643.8" y2="534" stroke="#000" stroke-width="1.7" stroke-linecap="butt"/>
<line x1="668.5" y1="438.8" x2="668.5" y2="534" stroke="#000" stroke-width="1.7" stroke-linecap="butt"/>
<line x1="727.7" y1="438.8" x2="727.7" y2="534" stroke="#000" stroke-width="1.7" stroke-linecap="butt"/>
<line x1="770.3" y1="438.8" x2="770.3" y2="534" stroke="#000" stroke-width="1.7" stroke-linecap="butt"/>
<line x1="426.7" y1="534" x2="426.7" y2="595" stroke="#000" stroke-width="1.5" stroke-linecap="butt"/>
<line x1="490.7" y1="534" x2="490.7" y2="595" stroke="#000" stroke-width="1.5" stroke-linecap="butt"/>
<line x1="547.9" y1="534" x2="547.9" y2="595" stroke="#000" stroke-width="1.4" stroke-linecap="butt"/>
<line x1="594.4" y1="534" x2="594.4" y2="595" stroke="#000" stroke-width="2.2" stroke-linecap="butt"/>
<line x1="669" y1="534" x2="669" y2="636.5" stroke="#000" stroke-width="2.2" stroke-linecap="butt"/>
<line x1="823.2" y1="534" x2="823.2" y2="636.5" stroke="#000" stroke-width="2.2" stroke-linecap="butt"/>
<line x1="412.6" y1="595" x2="412.6" y2="636.5" stroke="#000" stroke-width="2.2" stroke-linecap="butt"/>
<line x1="362.8" y1="546.2" x2="426.7" y2="546.2" stroke="#000" stroke-width="1.5" stroke-linecap="butt"/>
<line x1="440" y1="546.2" x2="490.7" y2="546.2" stroke="#000" stroke-width="1.5" stroke-linecap="butt"/>
<line x1="504.5" y1="546.4" x2="547" y2="546.4" stroke="#000" stroke-width="1.5" stroke-linecap="butt"/>
<line x1="561.5" y1="546.5" x2="594" y2="546.5" stroke="#000" stroke-width="1.5" stroke-linecap="butt"/>
<line x1="362.8" y1="558.6" x2="426.7" y2="558.6" stroke="#000" stroke-width="1.5" stroke-linecap="butt"/>
<line x1="440" y1="558.6" x2="490.7" y2="558.6" stroke="#000" stroke-width="1.5" stroke-linecap="butt"/>
<line x1="504.5" y1="558.8" x2="547" y2="558.8" stroke="#000" stroke-width="1.5" stroke-linecap="butt"/>
<line x1="561.5" y1="558.9" x2="594" y2="558.9" stroke="#000" stroke-width="1.5" stroke-linecap="butt"/>
<line x1="362.8" y1="570.7" x2="426.7" y2="570.7" stroke="#000" stroke-width="1.5" stroke-linecap="butt"/>
<line x1="440" y1="570.7" x2="490.7" y2="570.7" stroke="#000" stroke-width="1.5" stroke-linecap="butt"/>
<line x1="504.5" y1="570.9" x2="547" y2="570.9" stroke="#000" stroke-width="1.5" stroke-linecap="butt"/>
<line x1="561.5" y1="571" x2="594" y2="571" stroke="#000" stroke-width="1.5" stroke-linecap="butt"/>
<line x1="362.8" y1="582.8" x2="426.7" y2="582.8" stroke="#000" stroke-width="1.5" stroke-linecap="butt"/>
<line x1="440" y1="582.8" x2="490.7" y2="582.8" stroke="#000" stroke-width="1.5" stroke-linecap="butt"/>
<line x1="504.5" y1="583" x2="547" y2="583" stroke="#000" stroke-width="1.5" stroke-linecap="butt"/>
<line x1="561.5" y1="583.1" x2="594" y2="583.1" stroke="#000" stroke-width="1.5" stroke-linecap="butt"/>
<line x1="823.2" y1="621.3" x2="863" y2="621.3" stroke="#000" stroke-width="1.7" stroke-linecap="butt"/>
<text x="378.2" y="449.62" font-size="10.51" font-style="italic" stroke="#000" stroke-width="0.75" stroke-linejoin="round" textLength="4.67" lengthAdjust="spacingAndGlyphs" fill="#000">1</text>
<text x="686.13" y="449.62" font-size="10.51" font-style="italic" stroke="#000" stroke-width="0.75" stroke-linejoin="round" textLength="22.85" lengthAdjust="spacingAndGlyphs" fill="#000">St3S</text>
<text x="378.2" y="463.23" font-size="10.51" font-style="italic" stroke="#000" stroke-width="0.75" stroke-linejoin="round" textLength="4.67" lengthAdjust="spacingAndGlyphs" fill="#000">1</text>
<text x="686.13" y="463.23" font-size="10.51" font-style="italic" stroke="#000" stroke-width="0.75" stroke-linejoin="round" textLength="22.85" lengthAdjust="spacingAndGlyphs" fill="#000">St3S</text>
<text x="378.2" y="476.82" font-size="10.51" font-style="italic" stroke="#000" stroke-width="0.75" stroke-linejoin="round" textLength="4.67" lengthAdjust="spacingAndGlyphs" fill="#000">1</text>
<text x="686.13" y="476.82" font-size="10.51" font-style="italic" stroke="#000" stroke-width="0.75" stroke-linejoin="round" textLength="22.85" lengthAdjust="spacingAndGlyphs" fill="#000">St3S</text>
<text x="378.2" y="490.43" font-size="10.51" font-style="italic" stroke="#000" stroke-width="0.75" stroke-linejoin="round" textLength="4.67" lengthAdjust="spacingAndGlyphs" fill="#000">1</text>
<text x="686.13" y="490.43" font-size="10.51" font-style="italic" stroke="#000" stroke-width="0.75" stroke-linejoin="round" textLength="22.85" lengthAdjust="spacingAndGlyphs" fill="#000">St3S</text>
<text x="378.2" y="504.02" font-size="10.51" font-style="italic" stroke="#000" stroke-width="0.75" stroke-linejoin="round" textLength="4.67" lengthAdjust="spacingAndGlyphs" fill="#000">1</text>
<text x="686.13" y="504.02" font-size="10.51" font-style="italic" stroke="#000" stroke-width="0.75" stroke-linejoin="round" textLength="22.85" lengthAdjust="spacingAndGlyphs" fill="#000">St3S</text>
<text x="401.6" y="449.62" font-size="10.51" font-style="italic" stroke="#000" stroke-width="0.75" stroke-linejoin="round" textLength="42.24" lengthAdjust="spacingAndGlyphs" fill="#000">Kątownik</text>
<text x="447.53" y="449.7" font-size="10.72" stroke="#000" stroke-width="0.6" stroke-linejoin="round" textLength="5.45" lengthAdjust="spacingAndGlyphs" fill="#000">L</text>
<text x="461.1" y="449.62" font-size="10.51" font-style="italic" stroke="#000" stroke-width="0.75" stroke-linejoin="round" textLength="89.22" lengthAdjust="spacingAndGlyphs" fill="#000">90 x 90 x 9 x 2200</text>
<text x="401.6" y="463.23" font-size="10.51" font-style="italic" stroke="#000" stroke-width="0.75" stroke-linejoin="round" textLength="42.24" lengthAdjust="spacingAndGlyphs" fill="#000">Kątownik</text>
<text x="447.53" y="463.3" font-size="10.72" stroke="#000" stroke-width="0.6" stroke-linejoin="round" textLength="5.45" lengthAdjust="spacingAndGlyphs" fill="#000">L</text>
<text x="460.84" y="463.23" font-size="10.51" font-style="italic" stroke="#000" stroke-width="0.75" stroke-linejoin="round" textLength="89.48" lengthAdjust="spacingAndGlyphs" fill="#000">65 x 65 x 7 x 2200</text>
<text x="401.35" y="476.82" font-size="10.51" font-style="italic" stroke="#000" stroke-width="0.75" stroke-linejoin="round" textLength="40.41" lengthAdjust="spacingAndGlyphs" fill="#000">Ceownik</text>
<text x="455.13" y="476.82" font-size="10.51" font-style="italic" stroke="#000" stroke-width="0.75" stroke-linejoin="round" textLength="59.67" lengthAdjust="spacingAndGlyphs" fill="#000">120p x 1400</text>
<text x="401.35" y="490.43" font-size="10.51" font-style="italic" stroke="#000" stroke-width="0.75" stroke-linejoin="round" textLength="40.41" lengthAdjust="spacingAndGlyphs" fill="#000">Ceownik</text>
<text x="455.13" y="490.43" font-size="10.51" font-style="italic" stroke="#000" stroke-width="0.75" stroke-linejoin="round" textLength="59.67" lengthAdjust="spacingAndGlyphs" fill="#000">100p x 1400</text>
<path d="M449.9 469.4L449.5 478.8L451.0 478.8" fill="none" stroke="#000" stroke-width="1.25"/>
<path d="M449.9 483L449.5 492.4L451.0 492.4" fill="none" stroke="#000" stroke-width="1.25"/>
<text x="401.6" y="504.02" font-size="10.51" font-style="italic" stroke="#000" stroke-width="0.75" stroke-linejoin="round" textLength="77.86" lengthAdjust="spacingAndGlyphs" fill="#000">Blacha węzłowa</text>
<text x="564.1" y="449.62" font-size="10.51" font-style="italic" stroke="#000" stroke-width="0.75" stroke-linejoin="round" textLength="76.42" lengthAdjust="spacingAndGlyphs" fill="#000">PN-87/H-93401</text>
<text x="564.1" y="463.23" font-size="10.51" font-style="italic" stroke="#000" stroke-width="0.75" stroke-linejoin="round" textLength="76.42" lengthAdjust="spacingAndGlyphs" fill="#000">PN-87/H-93401</text>
<text x="564.1" y="476.82" font-size="10.51" font-style="italic" stroke="#000" stroke-width="0.75" stroke-linejoin="round" textLength="75.64" lengthAdjust="spacingAndGlyphs" fill="#000">PN-86/H-93403</text>
<text x="564.1" y="490.43" font-size="10.51" font-style="italic" stroke="#000" stroke-width="0.75" stroke-linejoin="round" textLength="75.64" lengthAdjust="spacingAndGlyphs" fill="#000">PN-86/H-93403</text>
<text x="588.83" y="504.02" font-size="10.51" font-style="italic" stroke="#000" stroke-width="0.75" stroke-linejoin="round" textLength="26.97" lengthAdjust="spacingAndGlyphs" fill="#000">36-01</text>
<text x="653.41" y="449.62" font-size="10.51" font-style="italic" stroke="#000" stroke-width="0.75" stroke-linejoin="round" textLength="4.95" lengthAdjust="spacingAndGlyphs" fill="#000">5</text>
<text x="653.23" y="463.23" font-size="10.51" font-style="italic" stroke="#000" stroke-width="0.75" stroke-linejoin="round" textLength="5.44" lengthAdjust="spacingAndGlyphs" fill="#000">4</text>
<text x="653.41" y="476.82" font-size="10.51" font-style="italic" stroke="#000" stroke-width="0.75" stroke-linejoin="round" textLength="5.05" lengthAdjust="spacingAndGlyphs" fill="#000">3</text>
<text x="653.61" y="490.43" font-size="10.51" font-style="italic" stroke="#000" stroke-width="0.75" stroke-linejoin="round" textLength="4.85" lengthAdjust="spacingAndGlyphs" fill="#000">2</text>
<text x="654.39" y="504.02" font-size="10.51" font-style="italic" stroke="#000" stroke-width="0.75" stroke-linejoin="round" textLength="4.36" lengthAdjust="spacingAndGlyphs" fill="#000">1</text>
<text x="738.28" y="449.62" font-size="10.51" font-style="italic" stroke="#000" stroke-width="0.75" stroke-linejoin="round" textLength="20.7" lengthAdjust="spacingAndGlyphs" fill="#000">26,1</text>
<text x="743.51" y="463.23" font-size="10.51" font-style="italic" stroke="#000" stroke-width="0.75" stroke-linejoin="round" textLength="10.4" lengthAdjust="spacingAndGlyphs" fill="#000">15</text>
<text x="744.1" y="476.82" font-size="10.51" font-style="italic" stroke="#000" stroke-width="0.75" stroke-linejoin="round" textLength="9.63" lengthAdjust="spacingAndGlyphs" fill="#000">17</text>
<text x="738.72" y="490.43" font-size="10.51" font-style="italic" stroke="#000" stroke-width="0.75" stroke-linejoin="round" textLength="20.2" lengthAdjust="spacingAndGlyphs" fill="#000">13,9</text>
<text x="740.36" y="504.02" font-size="10.51" font-style="italic" stroke="#000" stroke-width="0.75" stroke-linejoin="round" textLength="17" lengthAdjust="spacingAndGlyphs" fill="#000">218</text>
<text x="370.93" y="517.83" font-size="9.35" stroke="#000" stroke-width="0.35" stroke-linejoin="round" textLength="20.57" lengthAdjust="spacingAndGlyphs" fill="#000">Ilość</text>
<text x="369.37" y="530.12" font-size="9.6" stroke="#000" stroke-width="0.35" stroke-linejoin="round" textLength="23.2" lengthAdjust="spacingAndGlyphs" fill="#000">sztuk</text>
<text x="450.13" y="523.93" font-size="9.35" stroke="#000" stroke-width="0.35" stroke-linejoin="round" textLength="60.87" lengthAdjust="spacingAndGlyphs" fill="#000">Nazwa części</text>
<text x="570.22" y="517.83" font-size="9.35" stroke="#000" stroke-width="0.35" stroke-linejoin="round" textLength="65.96" lengthAdjust="spacingAndGlyphs" fill="#000">Nr rysunku lub</text>
<text x="588.88" y="530.12" font-size="9.6" stroke="#000" stroke-width="0.35" stroke-linejoin="round" textLength="27.61" lengthAdjust="spacingAndGlyphs" fill="#000">normy</text>
<text x="650.91" y="517.83" font-size="9.35" stroke="#000" stroke-width="0.35" stroke-linejoin="round" textLength="10.88" lengthAdjust="spacingAndGlyphs" fill="#000">Nr</text>
<text x="649" y="530.12" font-size="9.6" stroke="#000" stroke-width="0.35" stroke-linejoin="round" textLength="14.89" lengthAdjust="spacingAndGlyphs" fill="#000">kol.</text>
<text x="680.73" y="523.33" font-size="9.49" stroke="#000" stroke-width="0.35" stroke-linejoin="round" textLength="36.05" lengthAdjust="spacingAndGlyphs" fill="#000">Materiał</text>
<text x="729.92" y="523.33" font-size="9.49" stroke="#000" stroke-width="0.35" stroke-linejoin="round" textLength="38.82" lengthAdjust="spacingAndGlyphs" fill="#000">Masa kg</text>
<text x="802.88" y="523.33" font-size="9.49" stroke="#000" stroke-width="0.35" stroke-linejoin="round" textLength="27.44" lengthAdjust="spacingAndGlyphs" fill="#000">Uwagi</text>
<text x="364.84" y="543.62" font-size="9.49" stroke="#000" stroke-width="0.35" stroke-linejoin="round" textLength="55.01" lengthAdjust="spacingAndGlyphs" fill="#000">Konstruował</text>
<text x="364.84" y="555.83" font-size="9.49" stroke="#000" stroke-width="0.35" stroke-linejoin="round" textLength="38.03" lengthAdjust="spacingAndGlyphs" fill="#000">Rysował</text>
<text x="365.24" y="567.83" font-size="9.49" stroke="#000" stroke-width="0.35" stroke-linejoin="round" textLength="42.65" lengthAdjust="spacingAndGlyphs" fill="#000">Sprawdził</text>
<text x="364.82" y="580.03" font-size="9.49" stroke="#000" stroke-width="0.35" stroke-linejoin="round" textLength="55.94" lengthAdjust="spacingAndGlyphs" fill="#000">Kontr. norm.</text>
<text x="365.37" y="592.12" font-size="9.49" stroke="#000" stroke-width="0.35" stroke-linejoin="round" textLength="46.49" lengthAdjust="spacingAndGlyphs" fill="#000">Zatwierdził</text>
<text x="442.87" y="543.38" font-size="9.49" font-style="italic" stroke="#000" stroke-width="0.45" stroke-linejoin="round" textLength="34" lengthAdjust="spacingAndGlyphs" fill="#000">B. Malik</text>
<text x="442.87" y="555.57" font-size="9.49" font-style="italic" stroke="#000" stroke-width="0.45" stroke-linejoin="round" textLength="34" lengthAdjust="spacingAndGlyphs" fill="#000">B. Malik</text>
<text x="442.87" y="567.57" font-size="9.49" font-style="italic" stroke="#000" stroke-width="0.45" stroke-linejoin="round" textLength="34" lengthAdjust="spacingAndGlyphs" fill="#000">K. Malik</text>
<text x="-581.47" y="436.12" font-size="8.9" stroke="#000" stroke-width="0.35" stroke-linejoin="round" textLength="43.09" lengthAdjust="spacingAndGlyphs" transform="rotate(-90)" fill="#000">Nazwisko</text>
<text x="-581.04" y="500.72" font-size="9.8" stroke="#000" stroke-width="0.35" stroke-linejoin="round" textLength="30.45" lengthAdjust="spacingAndGlyphs" transform="rotate(-90)" fill="#000">Podpis</text>
<text x="-580.81" y="558.23" font-size="9.9" stroke="#000" stroke-width="0.35" stroke-linejoin="round" textLength="20.5" lengthAdjust="spacingAndGlyphs" transform="rotate(-90)" fill="#000">Data</text>
<text x="596.63" y="543.23" font-size="9.35" stroke="#000" stroke-width="0.35" stroke-linejoin="round" textLength="35.63" lengthAdjust="spacingAndGlyphs" fill="#000">Materiał</text>
<text x="610.29" y="576.5" font-size="21.45" font-style="italic" stroke="#000" stroke-width="1" stroke-linejoin="round" textLength="41.79" lengthAdjust="spacingAndGlyphs" fill="#000">St3S</text>
<text x="671.56" y="543.33" font-size="9.78" stroke="#000" stroke-width="0.35" stroke-linejoin="round" textLength="82.75" lengthAdjust="spacingAndGlyphs" fill="#000">Nazwa przedmiotu</text>
<text x="709.61" y="564.4" font-size="19.86" font-style="italic" stroke="#000" stroke-width="1" stroke-linejoin="round" textLength="70.51" lengthAdjust="spacingAndGlyphs" fill="#000">WĘZEŁ</text>
<text x="678.47" y="588.3" font-size="19.28" font-style="italic" stroke="#000" stroke-width="1" stroke-linejoin="round" textLength="131.25" lengthAdjust="spacingAndGlyphs" fill="#000">KRATOWNICY</text>
<text x="831.48" y="543.43" font-size="9.6" stroke="#000" stroke-width="0.35" stroke-linejoin="round" textLength="23.27" lengthAdjust="spacingAndGlyphs" fill="#000">Masa</text>
<text x="837.37" y="553.43" font-size="9.6" stroke="#000" stroke-width="0.35" stroke-linejoin="round" textLength="12.71" lengthAdjust="spacingAndGlyphs" fill="#000">kg</text>
<text x="832.35" y="580.05" font-size="12.9" font-style="italic" stroke="#000" stroke-width="0.3" stroke-linejoin="round" textLength="21.37" lengthAdjust="spacingAndGlyphs" fill="#000">290</text>
<text x="365.45" y="604.12" font-size="9.4" stroke="#000" stroke-width="0.35" stroke-linejoin="round" textLength="42.22" lengthAdjust="spacingAndGlyphs" fill="#000">Podziałka</text>
<text x="375.3" y="627.4" font-size="20" font-style="italic" stroke="#000" stroke-width="1" stroke-linejoin="round" textLength="25.38" lengthAdjust="spacingAndGlyphs" fill="#000">1:5</text>
<text x="414.65" y="604.12" font-size="9.4" stroke="#000" stroke-width="0.35" stroke-linejoin="round" textLength="106.71" lengthAdjust="spacingAndGlyphs" fill="#000">Nazwa przedsiębiorstwa</text>
<text x="423.55" y="625.55" font-size="14.06" font-style="italic" stroke="#000" stroke-width="0.9" stroke-linejoin="round" textLength="233.85" lengthAdjust="spacingAndGlyphs" fill="#000">ZESPÓŁ SZKÓŁ MECHANICZNYCH</text>
<text x="671.23" y="603.62" font-size="9.4" stroke="#000" stroke-width="0.35" stroke-linejoin="round" textLength="48.84" lengthAdjust="spacingAndGlyphs" fill="#000">Nr rysunku</text>
<text x="719.6" y="627.1" font-size="19.86" font-style="italic" stroke="#000" stroke-width="1" stroke-linejoin="round" textLength="50.56" lengthAdjust="spacingAndGlyphs" fill="#000">36-00</text>
<text x="824.74" y="603.43" font-size="9.2" stroke="#000" stroke-width="0.35" stroke-linejoin="round" textLength="36.6" lengthAdjust="spacingAndGlyphs" fill="#000">Arkusz /</text>
<text x="829.95" y="616.53" font-size="9.4" stroke="#000" stroke-width="0.35" stroke-linejoin="round" textLength="27.82" lengthAdjust="spacingAndGlyphs" fill="#000">il. ark.</text>
<text x="833.66" y="632.35" font-size="11.59" font-style="italic" stroke="#000" stroke-width="0.3" stroke-linejoin="round" textLength="18.54" lengthAdjust="spacingAndGlyphs" fill="#000">1/1</text></svg>
</body></html>
